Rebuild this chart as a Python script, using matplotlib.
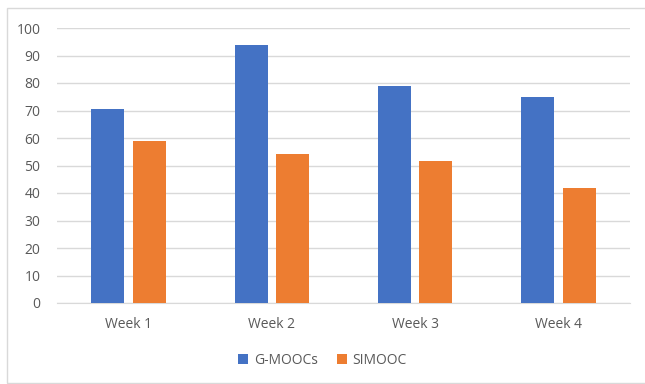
import numpy as np
import matplotlib.pyplot as plt
from matplotlib.patches import Rectangle

weeks = ["Week 1", "Week 2", "Week 3", "Week 4"]
g_moocs = [70.5, 94, 79, 75]
simooc = [59, 54.2, 51.8, 41.8]

blue = "#4472C4"
orange = "#ED7D31"
text_gray = "#595959"
grid_gray = "#D9D9D9"

plt.rcParams["font.family"] = ["Open Sans", "DejaVu Sans"]

fig = plt.figure(figsize=(6.45, 3.84), dpi=100)
ax = fig.add_axes([57 / 645, 1 - 303 / 384, (630 - 57) / 645, (303 - 28) / 384])

x = np.arange(len(weeks))
width = 0.23
ax.bar(x - 0.145, g_moocs, width, color=blue, label="G-MOOCs", zorder=3)
ax.bar(x + 0.145, simooc, width, color=orange, label="SIMOOC", zorder=3)

ax.set_xlim(-0.5, len(weeks) - 0.5)
ax.set_ylim(0, 100)
ax.set_yticks(range(0, 101, 10))
ax.set_xticks(x)
ax.set_xticklabels(weeks)
ax.grid(axis="y", color=grid_gray, linewidth=1, zorder=0)
for s in ["top", "right", "left"]:
    ax.spines[s].set_visible(False)
ax.spines["bottom"].set_color(grid_gray)
ax.tick_params(axis="both", length=0, colors=text_gray, labelsize=10)
ax.tick_params(axis="y", pad=12)
ax.tick_params(axis="x", pad=10)

ax.legend(loc="center", bbox_to_anchor=(0.5, 1 - 360 / 384), bbox_transform=fig.transFigure,
          ncol=2, frameon=False, fontsize=10, handlelength=0.7, handleheight=0.7,
          handletextpad=0.4, columnspacing=1.4, labelcolor=text_gray)

# light frame around the whole chart
fig.patches.append(Rectangle((7 / 645, 1 / 384), 1, 1 - 9 / 384, transform=fig.transFigure,
                             fill=False, edgecolor=grid_gray, linewidth=1))

fig.savefig("out.png", dpi=100)
